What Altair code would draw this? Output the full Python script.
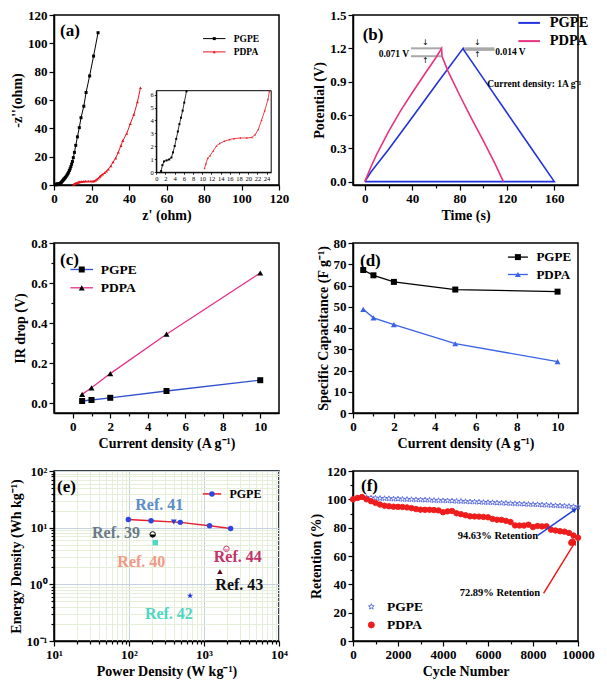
import json
import math
import altair as alt
import pandas as pd

SERIF = "Liberation Serif"
W, H = 225, 170
NAMES = ["PGPE", "PDPA"]

# ---------------- (a) Nyquist ----------------
A_PGPE_X = [1.05, 1.33, 1.68, 2.24, 2.8, 3.29, 3.64, 4.0, 4.34, 4.69, 5.03, 5.38, 5.73, 6.08, 6.57, 7.0,
            7.4, 7.8, 8.2, 8.6, 9.0, 9.4, 9.8, 10.3, 10.9, 11.6, 12.5, 13.5, 14.4, 15.9, 17.1, 19.0, 21.1, 23.5]
A_PGPE_Y = [0.1, 0.55, 0.84, 0.92, 0.99, 1.14, 1.54, 2.03, 2.58, 3.15, 3.72, 4.22, 4.76, 5.38, 6.25, 7.1,
            8.0, 9.0, 10.2, 11.5, 13.0, 14.7, 16.6, 19.3, 23.0, 28.0, 34.0, 40.5, 47.5, 55.6, 65.3, 77.0, 91.0, 107.5]
A_PDPA_X = [10.5, 10.8, 11.2, 11.7, 12.4, 13.1, 13.8, 14.8, 15.9, 16.9, 18.3, 19.7, 20.8, 21.5, 22.2, 22.9,
            23.6, 24.3, 24.6, 25.2, 26.0, 27.0, 28.0, 29.0, 30.3, 31.5, 32.9, 34.3, 35.7, 36.7, 38.8, 40.7,
            42.6, 44.5, 46.1]
A_PDPA_Y = [0.3, 0.67, 1.09, 1.29, 1.66, 2.03, 2.23, 2.4, 2.53, 2.6, 2.65, 2.65, 2.7, 2.9, 3.32, 4.02,
            4.76, 5.63, 6.25, 6.9, 7.6, 8.6, 9.8, 11.2, 13.4, 16.2, 19.0, 23.2, 27.8, 31.3, 36.4, 43.3,
            49.8, 58.6, 68.6]
INSET_X_DOMAIN = [0, 25]
INSET_Y_DOMAIN = [0, 6.3]

# ---------------- (b) charge/discharge ----------------
B_PGPE_T = [0, 5, 20, 41.5, 62, 83, 83.5, 100, 120, 140, 160, 0]
B_PGPE_V = [0, 0.085, 0.29, 0.6, 0.9, 1.2, 1.186, 0.93, 0.62, 0.31, 0, 0]
B_PDPA_T = [0, 5, 10, 20, 30, 40, 50, 60, 64.8, 65.2, 70, 80, 90, 100, 110, 117]
B_PDPA_V = [0, 0.13, 0.245, 0.45, 0.635, 0.8, 0.96, 1.115, 1.2, 1.129, 1.0, 0.78, 0.57, 0.37, 0.16, 0]
B_GUIDE_X0 = [39, 39, 84, 84]
B_GUIDE_X1 = [65, 65, 109.5, 109.5]
B_GUIDE_Y = [1.2, 1.129, 1.2, 1.186]
B_ARROW_X = [51, 51, 95, 95]
B_ARROW_Y = [1.245, 1.084, 1.245, 1.141]
B_ARROW_T = ["↓", "↑", "↓", "↑"]
B_NOTE_X = [24.5, 123, 143]
B_NOTE_Y = [1.15, 1.17, 0.875]
B_NOTE_T = ["0.071 V", "0.014 V", "Current density: 1A g⁻¹"]

# ---------------- (c) IR drop ----------------
C_J = [0.5, 1, 2, 5, 10]
C_PGPE = [0.010, 0.015, 0.026, 0.060, 0.114]
C_PDPA = [0.043, 0.076, 0.147, 0.344, 0.650]

# ---------------- (d) specific capacitance ----------------
D_J = [0.5, 1, 2, 5, 10]
D_PGPE = [67.3, 64.8, 61.7, 58.1, 57.1]
D_PDPA = [48.8, 44.8, 41.6, 32.6, 24.2]

# ---------------- (e) Ragone ----------------
E_PGPE_P = [98, 197, 483, 1186, 2264]
E_PGPE_E = [14.0, 13.3, 12.4, 10.8, 9.7]
REF_NAMES = ["Ref. 39", "Ref. 40", "Ref. 41", "Ref. 42", "Ref. 43", "Ref. 44"]
REF_P = [207, 224, 396, 652, 1630, 1990]
REF_E = [7.6, 5.45, 12.6, 0.63, 1.67, 4.23]
REF_LABEL_P = [67, 146, 253, 340, 2960, 2820]
REF_LABEL_E = [7.94, 2.47, 25, 0.30, 0.96, 2.98]

# ---------------- (f) cycling ----------------
F_CYCLE = list(range(0, 10001, 200))
F_PGPE = [100.0, 101.0, 101.4, 101.3, 101.0, 100.9, 100.7, 100.6, 100.5, 100.3, 100.3, 100.1, 100.0, 99.9,
          99.8, 99.7, 99.6, 99.5, 99.3, 99.2, 99.1, 99.0, 98.9, 98.7, 98.6, 98.5, 98.3, 98.2, 98.1, 97.9,
          97.8, 97.7, 97.5, 97.4, 97.3, 97.1, 97.0, 96.8, 96.7, 96.5, 96.4, 96.3, 96.1, 96.0, 95.8, 95.6,
          95.5, 95.3, 95.1, 94.9, 94.63]
F_PDPA = [100.0, 101.0, 101.7, 100.0, 98.7, 97.5, 96.3, 95.5, 95.1, 94.8, 94.7, 94.6, 94.3, 93.8, 93.1,
          92.7, 92.6, 92.6, 92.4, 92.2, 90.9, 91.5, 91.8, 90.2, 89.5, 88.8, 88.0, 87.9, 87.8, 87.6, 87.3,
          86.2, 85.6, 85.5, 84.8, 84.0, 81.6, 81.5, 81.5, 82.1, 80.4, 81.2, 80.9, 81.0, 78.6, 78.0, 77.5,
          77.2, 76.3, 74.5, 72.89]
F_PDPA_EXTRA_C = [9700, 9750]
F_PDPA_EXTRA_R = [69.3, 70.2]
F_ARROW_X0 = [8214, 8471]
F_ARROW_Y0 = [74.6, 33.6]
F_ARROW_X1 = [9857, 9857]
F_ARROW_Y1 = [92.7, 69.5]
F_NOTE_X = [6443, 6530]
F_NOTE_Y = [74.1, 33.6]
F_NOTE_T = ["94.63% Retention", "72.89% Retention"]


# ---------------- helpers ----------------
def series_df(items):
    rows = []
    for name, xs, ys in items:
        for i, (x, y) in enumerate(zip(xs, ys)):
            rows.append({"series": name, "x": x, "y": y, "idx": i})
    return pd.DataFrame(rows)


def lin_axis(title, major, minor=(), fmt=None, **kw):
    vals = sorted(list(major) + list(minor))
    test = "indexof(%s, datum.value) >= 0" % json.dumps(list(major))
    d = dict(title=title, values=vals, labelExpr="(%s) ? datum.label : ''" % test,
             tickSize={"condition": {"test": test, "value": 5}, "value": 3},
             labelOverlap=False, labelFlush=False)
    if fmt:
        d["format"] = fmt
    d.update(kw)
    return alt.Axis(**d)


def line_legend(cx, cy, row, font, half, size=25, sw=1.2, gap=5):
    s = math.sqrt(size)
    u = s / 2
    return alt.Legend(title=None, orient="none", legendX=cx - s / 2, legendY=cy - font / 2,
                      padding=0, symbolType="M%.3f,0H%.3f" % (-half / u, half / u),
                      symbolSize=size, symbolStrokeWidth=sw, labelFontSize=font,
                      labelOffset=half - s / 2 + gap, rowPadding=row - font, labelBaseline="middle")


def marker_legend(cx, cy, row, font, size=25, **kw):
    # marker symbols drawn over the line legend; its own labels are blanks
    s = math.sqrt(size)
    d = dict(title=None, orient="none", legendX=cx - s / 2, legendY=cy - font / 2,
             padding=0, symbolSize=size, labelFontSize=font, rowPadding=row - font,
             labelBaseline="middle", labelExpr="' '", labelOpacity=0)
    d.update(kw)
    return alt.Legend(**d)


def panel_label(text, dx, y):
    return alt.Chart(alt.Data(values=[{"t": text}])).mark_text(
        font=SERIF, fontWeight="bold", fontSize=17, color="black", align="left",
        baseline="alphabetic").encode(x=alt.value(dx), y=alt.value(y), text="t:N")


def lm_layers(df, xs, ys, xa, ya, names, line_colors, mk_colors, shapes, msize, lw, lleg, mleg):
    base = alt.Chart(df)
    line = base.mark_line(strokeWidth=lw).encode(
        x=alt.X("x:Q", scale=xs, axis=xa), y=alt.Y("y:Q", scale=ys, axis=ya), order="idx:Q",
        color=alt.Color("series:N", scale=alt.Scale(domain=names, range=line_colors), legend=lleg))
    pts = base.mark_point(filled=True, size=msize, opacity=1, strokeWidth=0).encode(
        x=alt.X("x:Q", scale=xs, axis=xa), y=alt.Y("y:Q", scale=ys, axis=ya),
        shape=alt.Shape("series:N", sort="descending", scale=alt.Scale(range=shapes), legend=mleg),
        fill=alt.Fill("series:N", sort="descending", scale=alt.Scale(range=mk_colors), legend=mleg))
    return [line, pts]


def star_path(inner=0.42):
    pts = []
    for k in range(10):
        r = 1.0 if k % 2 == 0 else inner
        a = -math.pi / 2 + k * math.pi / 5
        pts.append("%.3f,%.3f" % (r * math.cos(a), r * math.sin(a)))
    return "M" + "L".join(pts) + "Z"


STAR = star_path()
HALF_DOWN = "M-1,0A1,1 0 0,0 1,0Z"

# ---------------- panel (a) ----------------
a_df = series_df([("PGPE", A_PGPE_X, A_PGPE_Y), ("PDPA", A_PDPA_X, A_PDPA_Y)])
a_xs = alt.Scale(domain=[0, 120], nice=False, zero=False)
a_ys = alt.Scale(domain=[0, 120], nice=False, zero=False)
a_xa = lin_axis("z' (ohm)", [0, 20, 40, 60, 80, 100, 120])
a_ya = lin_axis("-z''(ohm)", [0, 20, 40, 60, 80, 100, 120])
a_main = alt.layer(*lm_layers(
    a_df, a_xs, a_ys, a_xa, a_ya, NAMES, ["#000000", "#e8141e"], ["#000000", "#e8141e"],
    ["square", "triangle-up"], 9, 1,
    line_legend(157, 23.6, 11.8, 9.5, 11.2, size=9, sw=1, gap=5),
    marker_legend(157, 23.6, 11.8, 9.5, size=9)), panel_label("(a)", 6, 20.6))

in_xs = alt.Scale(domain=INSET_X_DOMAIN, range=[102.3, 217.2], nice=False, zero=False)
in_ys = alt.Scale(domain=INSET_Y_DOMAIN, range=[157.3, 75.7], nice=False, zero=False)
in_xa = alt.Axis(orient="bottom", offset=-12.7, values=list(range(0, 25, 2)), title=None, labelFontSize=6.5,
                 labelFontWeight="normal", tickSize=2, tickWidth=0.8, labelPadding=1, domainWidth=1,
                 labelOverlap=False, labelFlush=False)
in_ya = alt.Axis(orient="left", offset=-102.3, values=[0, 1, 2, 3, 4, 5, 6], title=None, labelFontSize=6.5,
                 labelFontWeight="normal", tickSize=2, tickWidth=0.8, labelPadding=1, domainWidth=1,
                 labelOverlap=False, labelFlush=False)
in_frame = alt.Chart(alt.Data(values=[{"k": 0}])).mark_rect(fillOpacity=0, stroke="black", strokeWidth=1).encode(
    x=alt.datum(INSET_X_DOMAIN[0], scale=in_xs, axis=in_xa), x2=alt.datum(INSET_X_DOMAIN[1]),
    y=alt.datum(INSET_Y_DOMAIN[0], scale=in_ys, axis=in_ya), y2=alt.datum(INSET_Y_DOMAIN[1]))
in_layers = [in_frame]
for name, col, shp in [("PGPE", "#000000", "square"), ("PDPA", "#e8141e", "triangle-up")]:
    b = alt.Chart(a_df).transform_filter(
        "datum.series == '%s' && datum.y <= %s && datum.x <= %s" % (name, INSET_Y_DOMAIN[1], INSET_X_DOMAIN[1]))
    in_layers.append(b.mark_line(color=col, strokeWidth=0.8).encode(
        x=alt.X("x:Q", scale=in_xs, axis=in_xa), y=alt.Y("y:Q", scale=in_ys, axis=in_ya), order="idx:Q"))
    in_layers.append(b.mark_point(color=col, filled=True, shape=shp, size=4, opacity=1).encode(
        x=alt.X("x:Q", scale=in_xs, axis=in_xa), y=alt.Y("y:Q", scale=in_ys, axis=in_ya)))
a_inset = alt.layer(*in_layers)
pa = alt.layer(a_main, a_inset).resolve_scale(x="independent", y="independent").properties(width=W, height=H)

# ---------------- panel (b) ----------------
b_df = series_df([("PGPE", B_PGPE_T, B_PGPE_V), ("PDPA", B_PDPA_T, B_PDPA_V)])
b_xs = alt.Scale(domain=[-10, 180], nice=False, zero=False)
b_ys = alt.Scale(domain=[-0.03, 1.5], nice=False, zero=False)
b_xa = lin_axis("Time (s)", [0, 40, 80, 120, 160], [20, 60, 100, 140])
b_ya = lin_axis("Potential (V)", [0.0, 0.3, 0.6, 0.9, 1.2, 1.5], fmt=".1f")


def bx(f):
    return alt.X(f, type="quantitative", scale=b_xs, axis=b_xa)


def by(f):
    return alt.Y(f, type="quantitative", scale=b_ys, axis=b_ya)


b_line = alt.Chart(b_df).mark_line(strokeWidth=1.6).encode(
    x=bx("x"), y=by("y"), order="idx:Q",
    color=alt.Color("series:N", scale=alt.Scale(domain=NAMES, range=["#2233dd", "#e8337f"]),
                    legend=line_legend(171.4, 7.9, 17.7, 14.5, 10.8, size=25, sw=2, gap=5)))
b_guides = alt.Chart(pd.DataFrame({"x0": B_GUIDE_X0, "x1": B_GUIDE_X1, "y": B_GUIDE_Y})).mark_rule(
    color="#a9a9a9", strokeWidth=2).encode(x=bx("x0"), x2="x1:Q", y=by("y"))
b_arrows = alt.Chart(pd.DataFrame({"x": B_ARROW_X, "y": B_ARROW_Y, "t": B_ARROW_T})).mark_text(
    font="DejaVu Sans", fontSize=8, color="black").encode(x=bx("x"), y=by("y"), text="t:N")
b_notes = alt.Chart(pd.DataFrame({"x": B_NOTE_X, "y": B_NOTE_Y, "t": B_NOTE_T})).mark_text(
    font=SERIF, fontWeight="bold", fontSize=9.5, color="black").encode(x=bx("x"), y=by("y"), text="t:N")
pb = alt.layer(b_guides, b_line, b_arrows, b_notes, panel_label("(b)", 9.7, 24.6)).properties(width=W, height=H)

# ---------------- panel (c) ----------------
c_df = series_df([("PGPE", C_J, C_PGPE), ("PDPA", C_J, C_PDPA)])
c_xs = alt.Scale(domain=[-1, 11], nice=False, zero=False)
c_ys = alt.Scale(domain=[-0.05, 0.8], nice=False, zero=False)
c_xa = lin_axis("Current density (A g⁻¹)", [0, 2, 4, 6, 8, 10], [1, 3, 5, 7, 9])
c_ya = lin_axis("IR drop (V)", [0.0, 0.2, 0.4, 0.6, 0.8], [0.1, 0.3, 0.5, 0.7], fmt=".1f")
pc = alt.layer(*lm_layers(
    c_df, c_xs, c_ys, c_xa, c_ya, NAMES, ["#3050d0", "#e6318a"], ["#000000", "#000000"],
    ["square", "triangle-up"], 36, 1.3,
    line_legend(24, 26.5, 16.8, 13.5, 11.3, size=36, sw=1.3, gap=4),
    marker_legend(24, 26.5, 16.8, 13.5, size=36)), panel_label("(c)", 6, 21.6)).properties(width=W, height=H)

# ---------------- panel (d) ----------------
d_df = series_df([("PGPE", D_J, D_PGPE), ("PDPA", D_J, D_PDPA)])
d_xs = alt.Scale(domain=[0, 11], nice=False, zero=False)
d_ys = alt.Scale(domain=[0, 80], nice=False, zero=False)
d_xa = lin_axis("Current density (A g⁻¹)", [0, 2, 4, 6, 8, 10], [1, 3, 5, 7, 9])
d_ya = lin_axis("Specific Capacitance (F g⁻¹)", [0, 10, 20, 30, 40, 50, 60, 70, 80])
pd_ = alt.layer(*lm_layers(
    d_df, d_xs, d_ys, d_xa, d_ya, NAMES, ["#000000", "#3a62e6"], ["#000000", "#3a62e6"],
    ["square", "triangle-up"], 36, 1.3,
    line_legend(161.4, 14.1, 16.4, 13, 10, size=36, sw=1.3, gap=5),
    marker_legend(161.4, 14.1, 16.4, 13, size=36)), panel_label("(d)", 7, 22.6)).properties(width=W, height=H)

# ---------------- panel (e) ----------------
E_X_MAJOR = [10, 100, 1000, 10000]
E_Y_MAJOR = [0.1, 1, 10, 100]
E_X_MINOR = [m * 10 ** k for k in (1, 2, 3) for m in range(2, 10)]
E_Y_MINOR = [round(m * 10.0 ** k, 4) for k in (-1, 0, 1) for m in range(2, 10)]
SUP = {0.1: "10⁻¹", 1: "10⁰", 10: "10¹", 100: "10²", 1000: "10³", 10000: "10⁴"}


def log_axis(title, major, minor):
    test = "indexof(%s, datum.value) >= 0" % json.dumps(major)
    expr = "''"
    for v in reversed(major):
        expr = "datum.value === %s ? '%s' : %s" % (json.dumps(v), SUP[v], expr)
    return alt.Axis(title=title, values=sorted(major + minor), labelExpr=expr, grid=True,
                    gridColor={"condition": {"test": test, "value": "#c6d2dc"}, "value": "#e4eed8"},
                    gridWidth=1, labelOverlap=False, labelFlush=False,
                    tickSize={"condition": {"test": test, "value": 5}, "value": 3})


e_xs = alt.Scale(type="log", domain=[10, 10000], nice=False)
e_ys = alt.Scale(type="log", domain=[0.1, 100], nice=False)
e_xa = log_axis("Power Density (W kg⁻¹)", E_X_MAJOR, E_X_MINOR)
e_ya = log_axis("Energy Density (Wh kg⁻¹)", E_Y_MAJOR, E_Y_MINOR)
e_df = series_df([("PGPE", E_PGPE_P, E_PGPE_E)])
e_layers = lm_layers(e_df, e_xs, e_ys, e_xa, e_ya, ["PGPE"], ["#e8202e"], ["#2f45e0"], ["circle"], 30, 1.5,
                     line_legend(154.7, 22.9, 14, 12, 9.2, size=30, sw=1.5, gap=5),
                     marker_legend(154.7, 22.9, 14, 12, size=30))
ref_df = pd.DataFrame({"name": REF_NAMES, "x": REF_P, "y": REF_E, "lx": REF_LABEL_P, "ly": REF_LABEL_E})
REF_MARK = {
    "Ref. 39": [dict(shape="circle", filled=True, color="white", stroke="black", strokeWidth=1, size=30),
                dict(shape=HALF_DOWN, filled=True, color="black", size=30)],
    "Ref. 40": [dict(shape="square", filled=True, color="#4fd8c4", size=30)],
    "Ref. 41": [dict(shape="triangle-down", filled=True, color="#2a3fd0", size=34)],
    "Ref. 42": [dict(shape=STAR, filled=True, color="#2030e0", size=40)],
    "Ref. 43": [dict(shape="triangle-up", filled=True, color="#5a0a14", size=30)],
    "Ref. 44": [dict(shape="circle", filled=True, color="white", stroke="#c43c6a", strokeWidth=1, size=30),
                dict(shape=HALF_DOWN, filled=True, color="#e79ab3", size=30)],
}
REF_TEXT_COLOR = {"Ref. 39": "#6b7a88", "Ref. 40": "#f29a88", "Ref. 41": "#5b8ec8",
                  "Ref. 42": "#4fd6c2", "Ref. 43": "#111111", "Ref. 44": "#c2336a"}
for nm in REF_NAMES:
    b = alt.Chart(ref_df).transform_filter("datum.name == '%s'" % nm)
    for st in REF_MARK[nm]:
        e_layers.append(b.mark_point(opacity=1, **st).encode(
            x=alt.X("x:Q", scale=e_xs, axis=e_xa), y=alt.Y("y:Q", scale=e_ys, axis=e_ya)))
    e_layers.append(b.mark_text(font=SERIF, fontWeight="bold", fontSize=16, color=REF_TEXT_COLOR[nm]).encode(
        x=alt.X("lx:Q", scale=e_xs, axis=e_xa), y=alt.Y("ly:Q", scale=e_ys, axis=e_ya), text="name:N"))
e_layers.append(panel_label("(e)", 3, 20.6))
pe = alt.layer(*e_layers).properties(width=W, height=H)

# ---------------- panel (f) ----------------
f_df = series_df([("PGPE", F_CYCLE, F_PGPE), ("PDPA", F_CYCLE + F_PDPA_EXTRA_C, F_PDPA + F_PDPA_EXTRA_R)])
f_xs = alt.Scale(domain=[0, 10000], nice=False, zero=False)
f_ys = alt.Scale(domain=[0, 120], nice=False, zero=False)
f_xa = lin_axis("Cycle Number", [0, 2000, 4000, 6000, 8000, 10000], [1000, 3000, 5000, 7000, 9000], fmt="d")
f_ya = lin_axis("Retention (%)", [0, 20, 40, 60, 80, 100, 120], [10, 30, 50, 70, 90, 110])


def fx(f):
    return alt.X(f, type="quantitative", scale=f_xs, axis=f_xa)


def fy(f):
    return alt.Y(f, type="quantitative", scale=f_ys, axis=f_ya)


f_leg = alt.Legend(title=None, orient="none", legendX=14.6 - 3, legendY=135.7 - 6.75, padding=0,
                   symbolSize=36, labelFontSize=13.5, rowPadding=16.7 - 13.5, labelBaseline="middle",
                   labelOffset=9, symbolStrokeWidth=0.9)
f_pts = alt.Chart(f_df).mark_point(size=30, opacity=1, strokeWidth=0.9).encode(
    x=fx("x"), y=fy("y"),
    shape=alt.Shape("series:N", scale=alt.Scale(domain=NAMES, range=[STAR, "circle"]), legend=f_leg),
    fill=alt.Fill("series:N", scale=alt.Scale(domain=NAMES, range=["transparent", "#ee1c1c"]), legend=f_leg),
    stroke=alt.Stroke("series:N", scale=alt.Scale(domain=NAMES, range=["#5566dd", "#ee1c1c"]), legend=f_leg))
f_arr_df = pd.DataFrame({"x0": F_ARROW_X0, "y0": F_ARROW_Y0, "x1": F_ARROW_X1, "y1": F_ARROW_Y1,
                         "c": ["blue", "red"]})
f_layers = [f_pts]
for i, col in enumerate(["#1f3fd6", "#ee1111"]):
    b = alt.Chart(f_arr_df).transform_filter("datum.c == '%s'" % f_arr_df["c"][i])
    dxp = (F_ARROW_X1[i] - F_ARROW_X0[i]) * W / 10000.0
    dyp = (F_ARROW_Y1[i] - F_ARROW_Y0[i]) * H / 120.0
    ang = 90 - math.degrees(math.atan2(dyp, dxp))
    f_layers.append(b.mark_rule(color=col, strokeWidth=1.4).encode(
        x=fx("x0"), y=fy("y0"), x2="x1:Q", y2="y1:Q"))
    f_layers.append(b.mark_point(shape="triangle-up", filled=True, color=col, size=30, angle=ang, opacity=1).encode(
        x=fx("x1"), y=fy("y1")))
f_notes = alt.Chart(pd.DataFrame({"x": F_NOTE_X, "y": F_NOTE_Y, "t": F_NOTE_T})).mark_text(
    font=SERIF, fontWeight="bold", fontSize=10.5, color="black").encode(x=fx("x"), y=fy("y"), text="t:N")
f_layers.append(f_notes)
f_layers.append(panel_label("(f)", 8, 19.5))
pf = alt.layer(*f_layers).properties(width=W, height=H)

chart = alt.concat(pa, pb, pc, pd_, pe, pf, columns=2, spacing={"row": 58, "column": 74},
                   bounds="flush").resolve_scale(
    color="independent", fill="independent", shape="independent", stroke="independent").properties(
    padding=0).configure_view(
    stroke="black", strokeWidth=1.5).configure_axis(
    labelFont=SERIF, labelFontWeight="bold", labelFontSize=13, labelColor="black",
    titleFont=SERIF, titleFontWeight="bold", titleFontSize=14, titleColor="black",
    domainColor="black", domainWidth=1.5, tickColor="black", tickWidth=1.2, grid=False,
    labelFlush=False, labelOverlap=False, labelPadding=2, titlePadding=3).configure_legend(
    labelFont=SERIF, labelFontWeight="bold", labelColor="black")

chart.save("out.html", embed_options={"renderer": "svg", "actions": False})
